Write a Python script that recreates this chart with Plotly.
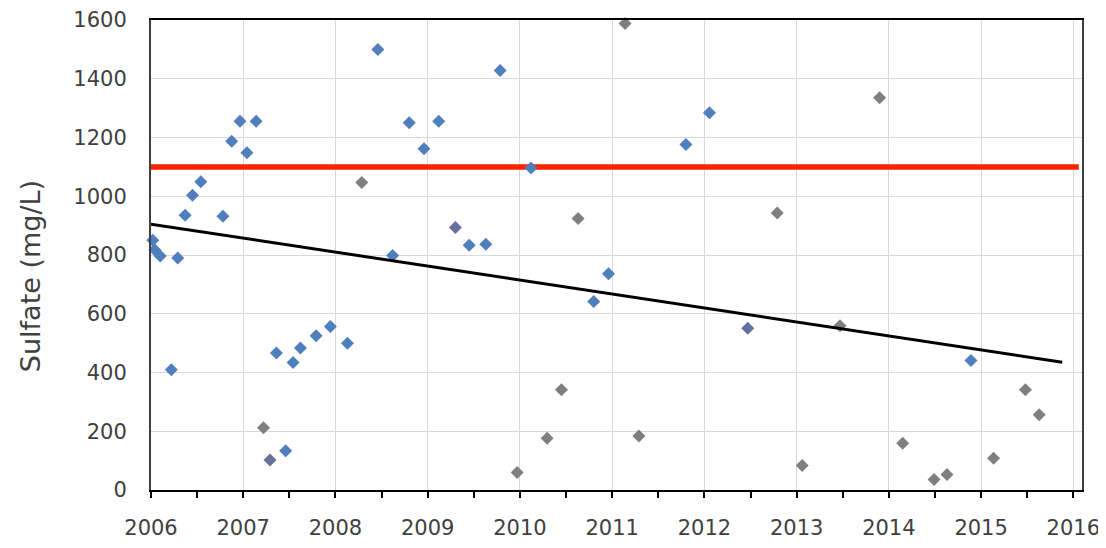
import plotly.graph_objects as go

# ---- data (decimal year, sulfate mg/L) ----
blue_years = [2006.02, 2006.04, 2006.10, 2006.22, 2006.29, 2006.37, 2006.45, 2006.54,
              2006.78, 2006.875, 2006.965, 2007.04, 2007.14, 2007.36, 2007.46, 2007.54,
              2007.62, 2007.79, 2007.945, 2008.13, 2008.46, 2008.62, 2008.80, 2008.96,
              2009.12, 2009.45, 2009.63, 2009.785, 2010.12, 2010.80, 2010.96,
              2011.80, 2012.055, 2014.89]
blue_values = [850, 818, 797, 409, 790, 935, 1003, 1049,
               932, 1187, 1255, 1148, 1255, 466, 134, 434,
               483, 525, 557, 500, 1500, 798, 1250, 1162,
               1255, 833, 837, 1428, 1096, 642, 736,
               1176, 1284, 441]

slate_years = [2007.29, 2009.30, 2012.47]
slate_values = [102, 894, 551]

gray_years = [2007.22, 2008.285, 2009.97, 2010.295, 2010.45, 2010.63, 2011.14, 2011.29,
              2012.79, 2013.06, 2013.47, 2013.90, 2014.15, 2014.49, 2014.63, 2015.135,
              2015.48, 2015.63]
gray_values = [212, 1047, 60, 176, 341, 924, 1588, 184,
               943, 83, 559, 1335, 159, 36, 53, 108,
               341, 256]

limit_years = [2006.0, 2016.06]
limit_values = [1100, 1100]

trend_years = [2006.0, 2015.88]
trend_values = [905, 435]

tick_years = list(range(2006, 2017))
tick_labels = [str(y) for y in tick_years]
y_ticks = list(range(0, 1601, 200))
y_title = "Sulfate (mg/L)"

FONT = "DejaVu Sans"
TXT = "#404040"

fig = go.Figure()

fig.add_trace(go.Scatter(x=limit_years, y=limit_values, mode="lines",
                         line=dict(color="#ff2200", width=5.5), hoverinfo="skip",
                         showlegend=False))

marker_common = dict(symbol="diamond", size=10, line=dict(width=0))
fig.add_trace(go.Scatter(x=gray_years, y=gray_values, mode="markers",
                         marker=dict(color="#7f7f7f", **marker_common),
                         showlegend=False, cliponaxis=False))
fig.add_trace(go.Scatter(x=slate_years, y=slate_values, mode="markers",
                         marker=dict(color="#66709c", **marker_common),
                         showlegend=False, cliponaxis=False))
fig.add_trace(go.Scatter(x=blue_years, y=blue_values, mode="markers",
                         marker=dict(color="#4f7fbd", **marker_common),
                         showlegend=False, cliponaxis=False))

fig.add_trace(go.Scatter(x=trend_years, y=trend_values, mode="lines",
                         line=dict(color="#000000", width=3), hoverinfo="skip",
                         showlegend=False))

# faint tan gridline at 1200
fig.add_shape(type="line", xref="paper", x0=0, x1=1, yref="y", y0=1200, y1=1200,
              line=dict(color="#e8d8b0", width=1.2), layer="below")

fig.add_annotation(text=y_title, textangle=-90, xref="paper", yref="paper",
                   x=0, y=0.455, xanchor="center", yanchor="middle", xshift=-121,
                   showarrow=False, font=dict(family=FONT, size=27, color=TXT))

fig.update_layout(
    width=1098, height=540,
    margin=dict(l=143, r=24, t=12, b=58, autoexpand=False),
    paper_bgcolor="white", plot_bgcolor="white",
    font=dict(family=FONT, size=21, color=TXT),
    xaxis=dict(
        range=[2006.0, 2016.094],
        tickmode="array", tickvals=tick_years, ticktext=tick_labels,
        showgrid=True, gridcolor="#d9d9d9", gridwidth=1,
        showline=True, linecolor="#000000", linewidth=2, mirror=True,
        ticks="outside", ticklen=6, tickwidth=1.5, tickcolor="#000000",
        minor=dict(tickmode="array", tickvals=[y + 0.5 for y in tick_years[:-1]],
                   ticks="outside", ticklen=6, tickwidth=1.5, tickcolor="#000000",
                   showgrid=False),
        ticklabelstandoff=12,
        tickfont=dict(family=FONT, size=21, color=TXT),
        zeroline=False,
    ),
    yaxis=dict(
        range=[0, 1600],
        tickmode="array", tickvals=y_ticks,
        showgrid=True, gridcolor="#d9d9d9", gridwidth=1,
        showline=True, linecolor="#404040", linewidth=2, mirror=True,
        ticks="", ticklabelstandoff=18,
        tickfont=dict(family=FONT, size=21, color=TXT),
        zeroline=False,
    ),
)

fig.write_html("out.html")
